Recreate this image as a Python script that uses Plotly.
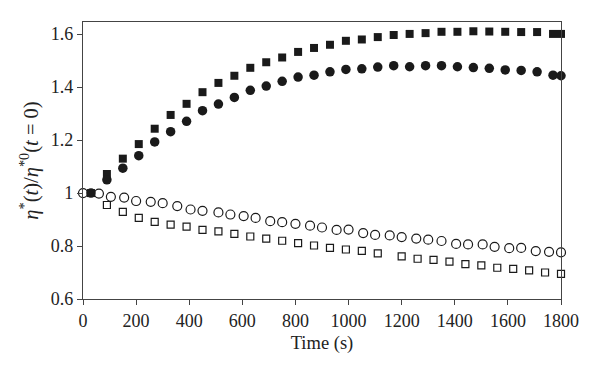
import plotly.graph_objects as go

# Filled squares
t_fsq = [30, 90, 150, 210, 270, 330, 390, 450, 510, 570, 630, 690, 750, 810, 870, 930, 990,
         1050, 1110, 1170, 1230, 1290, 1350, 1410, 1470, 1530, 1590, 1650, 1710, 1770, 1800]
v_fsq = [1.0, 1.072, 1.130, 1.185, 1.243, 1.295, 1.337, 1.381, 1.416, 1.443, 1.473, 1.494, 1.512,
         1.533, 1.548, 1.560, 1.575, 1.580, 1.589, 1.597, 1.601, 1.604, 1.609, 1.609, 1.611, 1.610,
         1.609, 1.608, 1.608, 1.601, 1.601]

# Filled circles
t_fci = t_fsq
v_fci = [1.0, 1.050, 1.094, 1.141, 1.193, 1.232, 1.271, 1.311, 1.336, 1.361, 1.388, 1.404, 1.422,
         1.438, 1.445, 1.458, 1.467, 1.469, 1.476, 1.481, 1.477, 1.481, 1.481, 1.477, 1.474, 1.471,
         1.465, 1.463, 1.458, 1.445, 1.443]

# Open circles
t_oci = [0, 60, 105, 155, 200, 255, 300, 355, 405, 450, 510, 555, 605, 650, 705, 750, 800, 855,
         900, 955, 1000, 1055, 1100, 1155, 1200, 1255, 1300, 1350, 1405, 1450, 1505, 1550, 1605,
         1650, 1705, 1755, 1800]
v_oci = [1.0, 0.998, 0.986, 0.983, 0.970, 0.967, 0.962, 0.951, 0.938, 0.933, 0.927, 0.919, 0.913,
         0.906, 0.894, 0.890, 0.884, 0.877, 0.870, 0.861, 0.862, 0.849, 0.842, 0.840, 0.834, 0.828,
         0.824, 0.819, 0.808, 0.806, 0.806, 0.797, 0.792, 0.793, 0.781, 0.778, 0.776]

# Open squares
t_osq = [90, 150, 210, 270, 330, 390, 450, 510, 570, 630, 690, 750, 810, 870, 930, 990, 1050,
         1110, 1200, 1260, 1320, 1380, 1440, 1500, 1560, 1620, 1680, 1740, 1800]
v_osq = [0.955, 0.929, 0.906, 0.891, 0.881, 0.873, 0.861, 0.855, 0.846, 0.836, 0.828, 0.820, 0.811,
         0.802, 0.793, 0.787, 0.782, 0.772, 0.761, 0.752, 0.748, 0.741, 0.732, 0.727, 0.718, 0.714,
         0.708, 0.700, 0.695]

x_ticks = [0, 200, 400, 600, 800, 1000, 1200, 1400, 1600, 1800]
y_ticks = [0.6, 0.8, 1.0, 1.2, 1.4, 1.6]
y_ticktext = ["0.6", "0.8", "1", "1.2", "1.4", "1.6"]

FONT = "Liberation Serif"
INK = "#1a1a1a"

fig = go.Figure()
fig.add_trace(go.Scatter(x=t_oci, y=v_oci, mode="markers", cliponaxis=False,
                         marker=dict(symbol="circle-open", size=9, color=INK, line=dict(width=1.2))))
fig.add_trace(go.Scatter(x=t_osq, y=v_osq, mode="markers", cliponaxis=False,
                         marker=dict(symbol="square-open", size=7, color=INK, line=dict(width=1.2))))
fig.add_trace(go.Scatter(x=t_fsq, y=v_fsq, mode="markers", cliponaxis=False,
                         marker=dict(symbol="square", size=8, color=INK)))
fig.add_trace(go.Scatter(x=t_fci, y=v_fci, mode="markers", cliponaxis=False,
                         marker=dict(symbol="circle", size=9.5, color=INK)))

fig.update_layout(
    width=600, height=374,
    margin=dict(l=83, r=39, t=22, b=75),
    paper_bgcolor="white", plot_bgcolor="white",
    showlegend=False,
    font=dict(family=FONT, size=18, color="#222"),
    xaxis=dict(range=[0, 1800], tickvals=x_ticks, ticks="outside", ticklen=5, tickcolor="#444",
               showline=True, linecolor="#444", linewidth=1.2, mirror=True, showgrid=False,
               zeroline=False, automargin=False,
               title=dict(text="Time (s)", font=dict(family=FONT, size=18.5), standoff=6)),
    yaxis=dict(range=[0.6, 1.646], tickvals=y_ticks, ticktext=y_ticktext,
               ticks="outside", ticklen=5, tickcolor="#444",
               showline=True, linecolor="#444", linewidth=1.2, mirror=True, showgrid=False,
               zeroline=False, automargin=False,
               title=dict(text="<i>η</i><sup>*</sup>(<i>t</i>)/<i>η</i><sup>*0</sup>(<i>t</i> = 0)",
                          font=dict(family=FONT, size=20.5), standoff=6)),
)

fig.write_html("out.html", config={"displayModeBar": False},
               post_script="document.body.style.margin='0';")
